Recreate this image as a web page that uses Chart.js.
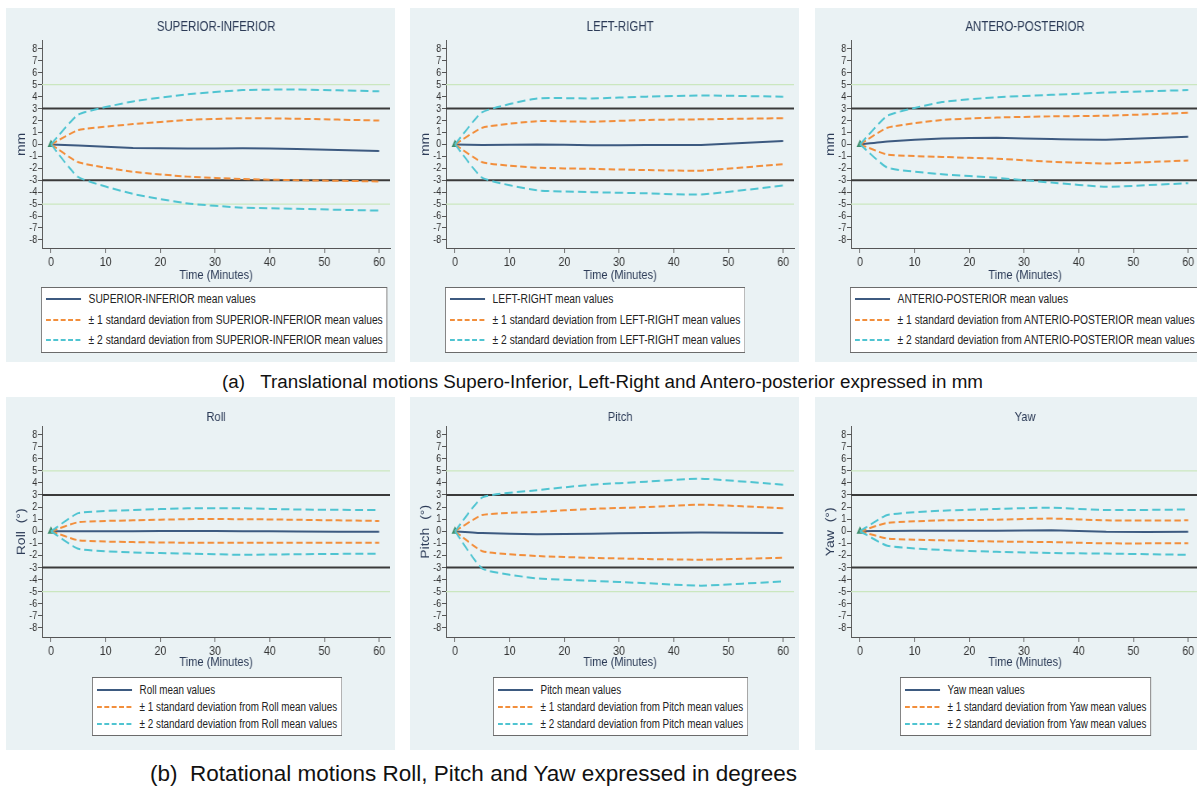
<!DOCTYPE html>
<html>
<head>
<meta charset="utf-8">
<script src="https://cdn.jsdelivr.net/npm/chart.js@4.4.1/dist/chart.umd.min.js"></script>
<style>
body { margin: 0; width: 1197px; height: 787px; overflow: hidden; background: #fff; position: relative;
       font-family: 'Liberation Sans', Arial, sans-serif; }
.panel { position: absolute; width: 389px; background: #eaf2f4; }
.panel canvas { position: absolute; left: 0; top: 0; }
.legend { position: absolute; background: #fff; border: 1px solid #6b6b6b; white-space: nowrap; color: #222;
          box-sizing: border-box; transform-origin: left top; display: inline-block; }
.legend .row { display: flex; align-items: center; }
.legend svg { flex: none; }
.cap { position: absolute; color: #111; white-space: pre; }
</style>
</head>
<body>

<div class="cap" id="capA" style="left:222px; top:371px; font-size:18.8px;">(a)   Translational motions Supero-Inferior, Left-Right and Antero-posterior expressed in mm</div>
<div class="cap" id="capB" style="left:150px; top:761px; font-size:22.5px;">(b)  Rotational motions Roll, Pitch and Yaw expressed in degrees</div>

<script>
const times = [0, 5, 15, 25, 35, 45, 60];
const xTicks = [0, 10, 20, 30, 40, 50, 60];
const yTicks = [-8, -7, -6, -5, -4, -3, -2, -1, 0, 1, 2, 3, 4, 5, 6, 7, 8];
const refLines = [3, -3];
const tolLines = [5, -5];

// SUPERIOR-INFERIOR (mm)
const siMean  = [0, -0.1, -0.3, -0.35, -0.33, -0.38, -0.55];
const siSd1Up = [0, 1.2, 1.7, 2.05, 2.2, 2.15, 2.0];
const siSd1Lo = [0, -1.5, -2.3, -2.7, -2.9, -3.0, -3.1];
const siSd2Up = [0, 2.5, 3.6, 4.2, 4.55, 4.6, 4.45];
const siSd2Lo = [0, -2.75, -4.15, -4.95, -5.3, -5.4, -5.55];

// LEFT-RIGHT (mm)
const lrMean  = [0, -0.05, 0.0, -0.08, -0.05, -0.05, 0.28];
const lrSd1Up = [0, 1.4, 1.95, 1.9, 2.05, 2.1, 2.2];
const lrSd1Lo = [0, -1.5, -1.95, -2.05, -2.15, -2.2, -1.65];
const lrSd2Up = [0, 2.7, 3.85, 3.85, 4.0, 4.1, 4.0];
const lrSd2Lo = [0, -2.8, -3.85, -4.0, -4.1, -4.2, -3.45];

// ANTERO-POSTERIOR (mm)
const apMean  = [0, 0.25, 0.5, 0.55, 0.45, 0.4, 0.65];
const apSd1Up = [0, 1.4, 2.05, 2.25, 2.35, 2.4, 2.65];
const apSd1Lo = [0, -0.85, -1.05, -1.2, -1.45, -1.6, -1.35];
const apSd2Up = [0, 2.4, 3.55, 3.95, 4.15, 4.35, 4.55];
const apSd2Lo = [0, -1.95, -2.5, -2.8, -3.2, -3.55, -3.25];

// Roll (deg)
const rollMean  = [0, 0, 0, 0.02, 0, -0.02, -0.05];
const rollSd1Up = [0, 0.75, 0.9, 1.0, 1.0, 0.95, 0.85];
const rollSd1Lo = [0, -0.75, -0.9, -0.95, -0.95, -0.95, -0.95];
const rollSd2Up = [0, 1.5, 1.75, 1.9, 1.9, 1.8, 1.75];
const rollSd2Lo = [0, -1.45, -1.75, -1.85, -1.95, -1.9, -1.85];

// Pitch (deg)
const pitchMean  = [0, -0.15, -0.25, -0.2, -0.15, -0.1, -0.15];
const pitchSd1Up = [0, 1.35, 1.6, 1.85, 2.0, 2.2, 1.9];
const pitchSd1Lo = [0, -1.65, -2.05, -2.2, -2.3, -2.35, -2.2];
const pitchSd2Up = [0, 2.8, 3.4, 3.85, 4.1, 4.35, 3.85];
const pitchSd2Lo = [0, -3.1, -3.9, -4.1, -4.3, -4.5, -4.15];

// Yaw (deg)
const yawMean  = [0, 0.02, 0.05, 0.05, 0.08, -0.05, -0.05];
const yawSd1Up = [0, 0.7, 0.9, 0.95, 1.05, 0.9, 0.9];
const yawSd1Lo = [0, -0.6, -0.75, -0.85, -0.9, -1.0, -1.0];
const yawSd2Up = [0, 1.35, 1.7, 1.85, 1.95, 1.75, 1.8];
const yawSd2Lo = [0, -1.2, -1.55, -1.7, -1.8, -1.85, -1.95];

const FONT = "'Liberation Sans', Arial, sans-serif";
const meanColor = '#3d5a80';
const sd1Color = '#f28e3b';
const sd2Color = '#4fc4d1';
const navy = '#2c3b57';

// the original figure is squeezed sideways, so the canvas is drawn wider and shown narrower
const PANEL_W = 389;
const INNER_W = 474;
const K = PANEL_W / INNER_W;

const rows = [
    { top: 8, height: 354, yMin: -8.68, yMax: 8.68, titleSize: 14, titlePad: { top: 11, bottom: 5 },
      xTitlePad: 9.2, legendTop: 279, legendFont: 12.5, rowH: 20.5, legendPadTop: 1, legendCenter: false },
    { top: 397, height: 353, yMin: -8.75, yMax: 8.65, titleSize: 13.5, titlePad: { top: 12, bottom: 1.5 },
      xTitlePad: 11.2, legendTop: 280, legendFont: 12, rowH: 17, legendPadTop: 3, legendCenter: true }
];
const colLeft = [6, 410, 815];

const refLinesPlugin = {
    id: 'refLines',
    beforeDatasetsDraw(chart) {
        const { ctx, chartArea: { left, right }, scales: { y } } = chart;
        ctx.save();
        tolLines.forEach(v => {
            const py = y.getPixelForValue(v);
            ctx.beginPath();
            ctx.moveTo(left, py);
            ctx.lineTo(right, py);
            ctx.strokeStyle = '#cbe7bf';
            ctx.lineWidth = 1.2;
            ctx.stroke();
        });
        refLines.forEach(v => {
            const py = y.getPixelForValue(v);
            ctx.beginPath();
            ctx.moveTo(left, py);
            ctx.lineTo(right, py);
            ctx.strokeStyle = '#3a3a3a';
            ctx.lineWidth = 2;
            ctx.stroke();
        });
        ctx.restore();
    }
};

function legendSample(color, dash) {
    return '<svg width="43" height="6" style="margin:0 9px 0 5px"><line x1="0" y1="3" x2="43" y2="3" stroke="' + color +
        '" stroke-width="1.8"' + (dash ? ' stroke-dasharray="' + dash + '"' : '') + '/></svg>';
}

function makePanel(rowIdx, colIdx, title, yTitle, legendName, mean, sd1Up, sd1Lo, sd2Up, sd2Lo) {
    const r = rows[rowIdx];
    const panel = document.createElement('div');
    panel.className = 'panel';
    panel.style.left = colLeft[colIdx] + 'px';
    panel.style.top = r.top + 'px';
    panel.style.height = r.height + 'px';
    const canvas = document.createElement('canvas');
    canvas.width = INNER_W;
    canvas.height = 285;
    canvas.style.width = PANEL_W + 'px';
    canvas.style.height = '285px';
    panel.appendChild(canvas);

    const leg = document.createElement('div');
    leg.className = 'legend';
    leg.style.top = r.legendTop + 'px';
    leg.style.fontSize = r.legendFont + 'px';
    leg.style.paddingTop = r.legendPadTop + 'px';
    leg.style.paddingBottom = r.legendPadTop + 'px';
    leg.style.paddingRight = '5px';
    leg.style.transform = 'scaleX(' + K + ')';
    const labels = [legendName + ' mean values',
        '\u00b1 1 standard deviation from ' + legendName + ' mean values',
        '\u00b1 2 standard deviation from ' + legendName + ' mean values'];
    const samples = [legendSample(meanColor, null), legendSample(sd1Color, '6,3'), legendSample(sd2Color, '6,3')];
    leg.innerHTML = labels.map((t, i) =>
        '<div class="row" style="height:' + r.rowH + 'px">' + samples[i] + '<span>' + t + '</span></div>').join('');
    panel.appendChild(leg);
    document.body.appendChild(panel);
    if (r.legendCenter) {
        leg.style.left = Math.round(211 - leg.offsetWidth * K / 2) + 'px';
    } else {
        leg.style.left = '35px';
    }

    const lineDs = (data, color, dash, marker) => ({
        data: times.map((t, i) => ({ x: t, y: data[i] })),
        borderColor: color,
        borderWidth: 2,
        borderDash: dash,
        tension: 0.15,
        fill: false,
        pointRadius: marker ? times.map((t, i) => i === 0 ? 3 : 0) : 0,
        pointStyle: 'triangle',
        pointBackgroundColor: '#3f8f6e',
        pointBorderColor: '#3f8f6e'
    });

    new Chart(canvas.getContext('2d'), {
        type: 'line',
        data: {
            datasets: [
                lineDs(sd2Up, sd2Color, [10, 5], false),
                lineDs(sd2Lo, sd2Color, [10, 5], false),
                lineDs(sd1Up, sd1Color, [8, 4], false),
                lineDs(sd1Lo, sd1Color, [8, 4], false),
                lineDs(mean, meanColor, [], true)
            ]
        },
        plugins: [refLinesPlugin],
        options: {
            responsive: false,
            animation: false,
            devicePixelRatio: 1,
            layout: { padding: { left: 0, right: 2.4, top: 0, bottom: 0 } },
            plugins: {
                legend: { display: false },
                tooltip: { enabled: false },
                title: {
                    display: true,
                    fullSize: false,
                    text: title,
                    color: navy,
                    font: { family: FONT, size: r.titleSize, weight: 'normal' },
                    padding: r.titlePad
                }
            },
            scales: {
                x: {
                    type: 'linear',
                    min: -1.63,
                    max: 62,
                    afterBuildTicks: s => { s.ticks = xTicks.map(v => ({ value: v })); },
                    afterFit: s => { s.height = 45; },
                    grid: { display: true, drawOnChartArea: false, drawTicks: true, tickLength: 5, color: '#555' },
                    border: { display: true, color: '#555', width: 1 },
                    ticks: { color: '#333', padding: 2, maxRotation: 0, autoSkip: false, font: { family: FONT, size: 13 } },
                    title: { display: true, text: 'Time (Minutes)', color: navy,
                             font: { family: FONT, size: 13.5 }, padding: { top: 0, bottom: r.xTitlePad } }
                },
                y: {
                    type: 'linear',
                    min: r.yMin,
                    max: r.yMax,
                    afterBuildTicks: s => { s.ticks = yTicks.map(v => ({ value: v })); },
                    afterFit: s => { s.width = 44; },
                    grid: { display: true, drawOnChartArea: false, drawTicks: true, tickLength: 5, color: '#555' },
                    border: { display: true, color: '#555', width: 1 },
                    ticks: { color: '#333', padding: 1, autoSkip: false, font: { family: FONT, size: 11 } },
                    title: { display: true, text: yTitle, color: navy,
                             font: { family: FONT, size: 14 }, padding: { top: 11, bottom: 0 } }
                }
            }
        },
    });
}

makePanel(0, 0, 'SUPERIOR-INFERIOR', 'mm', 'SUPERIOR-INFERIOR', siMean, siSd1Up, siSd1Lo, siSd2Up, siSd2Lo);
makePanel(0, 1, 'LEFT-RIGHT', 'mm', 'LEFT-RIGHT', lrMean, lrSd1Up, lrSd1Lo, lrSd2Up, lrSd2Lo);
makePanel(0, 2, 'ANTERO-POSTERIOR', 'mm', 'ANTERIO-POSTERIOR', apMean, apSd1Up, apSd1Lo, apSd2Up, apSd2Lo);
makePanel(1, 0, 'Roll', 'Roll  (\u00b0)', 'Roll', rollMean, rollSd1Up, rollSd1Lo, rollSd2Up, rollSd2Lo);
makePanel(1, 1, 'Pitch', 'Pitch  (\u00b0)', 'Pitch', pitchMean, pitchSd1Up, pitchSd1Lo, pitchSd2Up, pitchSd2Lo);
makePanel(1, 2, 'Yaw', 'Yaw  (\u00b0)', 'Yaw', yawMean, yawSd1Up, yawSd1Lo, yawSd2Up, yawSd2Lo);
</script>
</body>
</html>
